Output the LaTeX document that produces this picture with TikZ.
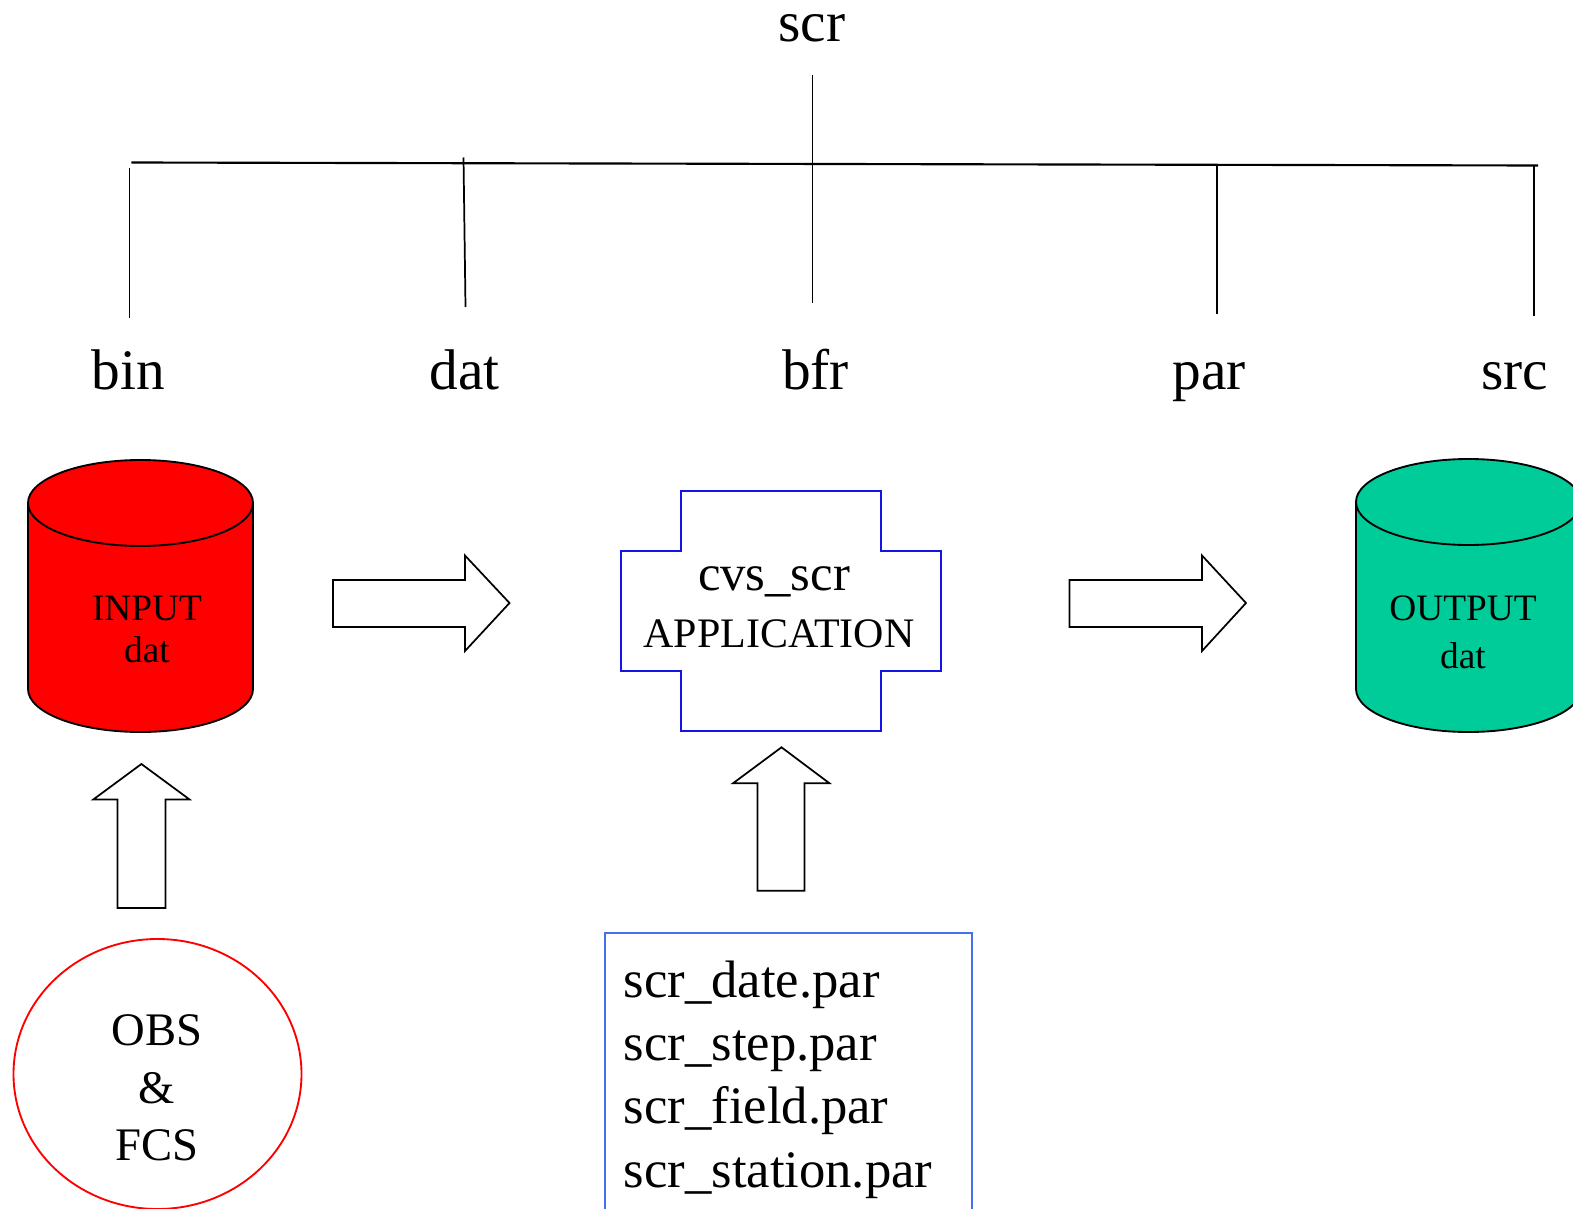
\documentclass[tikz,border=0pt]{standalone}
\usepackage{fontspec}
\setmainfont{Liberation Serif}
\definecolor{cylred}{RGB}{255,0,0}
\definecolor{cylgreen}{RGB}{0,204,153}
\definecolor{crossblue}{RGB}{20,20,230}
\definecolor{boxblue}{RGB}{70,110,240}
\begin{document}
\begin{tikzpicture}[x=0.75pt,y=-0.75pt,
  lbl/.style={anchor=base,inner sep=0,font=\fontsize{43}{50}\selectfont},
  cyltxt/.style={anchor=base,inner sep=0,font=\fontsize{28}{32}\selectfont},
  apptxt/.style={anchor=base,inner sep=0,font=\fontsize{31.5}{40}\selectfont},
  apptxtbig/.style={anchor=base,inner sep=0,font=\fontsize{38}{44}\selectfont},
  obstxt/.style={anchor=base,inner sep=0,font=\fontsize{35}{40}\selectfont},
  partxt/.style={anchor=base west,inner sep=0,font=\fontsize{39.5}{46}\selectfont},
  tree/.style={line width=1.3pt},
  blockarrow/.style={draw=black,line width=1.3pt,fill=white,line join=miter},
  cyl/.style={draw=black,line width=1.4pt}]
\useasboundingbox (0,0) rectangle (1573,1209);

% tree labels
\node[lbl] (scr) at (812,42) {scr};
\node[lbl] (bin) at (128.5,389) {bin};
\node[lbl] (dat) at (464.5,389) {dat};
\node[lbl] (bfr) at (815.5,389) {bfr};
\node[lbl] (par) at (1209,389) {par};
\node[lbl] (src) at (1515,389) {src};

% tree lines
\coordinate (hl) at (131.4,162.5);
\coordinate (hr) at (1538,165.5);
\draw[line width=1.6pt] (hl) -- (hr);
\coordinate (t0) at (812.5,75);   \coordinate (b0) at (812.5,303);
\coordinate (t1) at (129.4,168.5);  \coordinate (b1) at (129.4,318);
\coordinate (t2) at (463.5,157.5);  \coordinate (b2) at (465.5,307);
\coordinate (t4) at (1217,165.5); \coordinate (b4) at (1217,314);
\coordinate (t5) at (1534,165.5); \coordinate (b5) at (1534,316);
\draw[tree] (t0) -- (b0);
\draw[tree] (t1) -- (b1);
\draw[tree] (t2) -- (b2);
\draw[tree] (t4) -- (b4);
\draw[tree] (t5) -- (b5);

% INPUT cylinder
\fill[cylred] (28,503) -- (28,689) arc[start angle=180,end angle=0,x radius=112.5,y radius=43]
  -- (253,503) arc[start angle=0,end angle=-180,x radius=112.5,y radius=43] -- cycle;
\draw[cyl] (28,503) -- (28,689) arc[start angle=180,end angle=0,x radius=112.5,y radius=43] -- (253,503);
\draw[cyl] (140.5,503) ellipse[x radius=112.5,y radius=43];
\node[cyltxt] (in1) at (147,620) {INPUT};
\node[cyltxt] (in2) at (147,662) {dat};

% OUTPUT cylinder
\fill[cylgreen] (1356,502) -- (1356,689) arc[start angle=180,end angle=0,x radius=112.5,y radius=43]
  -- (1581,502) arc[start angle=0,end angle=-180,x radius=112.5,y radius=43] -- cycle;
\draw[cyl] (1356,502) -- (1356,689) arc[start angle=180,end angle=0,x radius=112.5,y radius=43] -- (1581,502);
\draw[cyl] (1468.5,502) ellipse[x radius=112.5,y radius=43];
\node[cyltxt] (out1) at (1463,620) {OUTPUT};
\node[cyltxt] (out2) at (1463,668) {dat};

% application cross
\draw[crossblue,line width=1.4pt] (681,491) -- (881,491) -- (881,551) -- (941,551) -- (941,671)
  -- (881,671) -- (881,731) -- (681,731) -- (681,671) -- (621,671) -- (621,551) -- (681,551) -- cycle;
\node[apptxtbig] (app1) at (774,590) {cvs\_scr};
\node[apptxt] (app2) at (779,647) {APPLICATION};

% block arrows
\draw[blockarrow] (333,580) -- (465,580) -- (465,555.5) -- (509.5,603) -- (465,651) -- (465,627) -- (333,627) -- cycle;
\draw[blockarrow] (1069.5,580) -- (1202,580) -- (1202,555.5) -- (1246,603) -- (1202,651) -- (1202,627) -- (1069.5,627) -- cycle;
\draw[blockarrow] (117.4,908) -- (117.4,799.5) -- (93.3,799.5) -- (141.4,764) -- (189.6,799.5) -- (165.5,799.5) -- (165.5,908) -- cycle;
\draw[blockarrow] (757.4,890.8) -- (757.4,783.3) -- (733,783.3) -- (781.5,747.3) -- (829.5,783.3) -- (804.5,783.3) -- (804.5,890.8) -- cycle;

% OBS & FCS circle
\draw[cylred,line width=1.4pt] (157.5,1074) ellipse[x radius=144,y radius=135];
\node[obstxt] (obs1) at (157,1045) {OBS};
\node[obstxt] (obs2) at (157,1103) {\&};
\node[obstxt] (obs3) at (157,1160) {FCS};

% parameter files box
\draw[boxblue,line width=1.3pt] (605,933) rectangle (972,1220);
\node[partxt] (p1) at (623.5,997) {scr\_date.par};
\node[partxt] (p2) at (623.5,1060) {scr\_step.par};
\node[partxt] (p3) at (623.5,1123) {scr\_field.par};
\node[partxt] (p4) at (623.5,1187) {scr\_station.par};
\end{tikzpicture}
\end{document}
